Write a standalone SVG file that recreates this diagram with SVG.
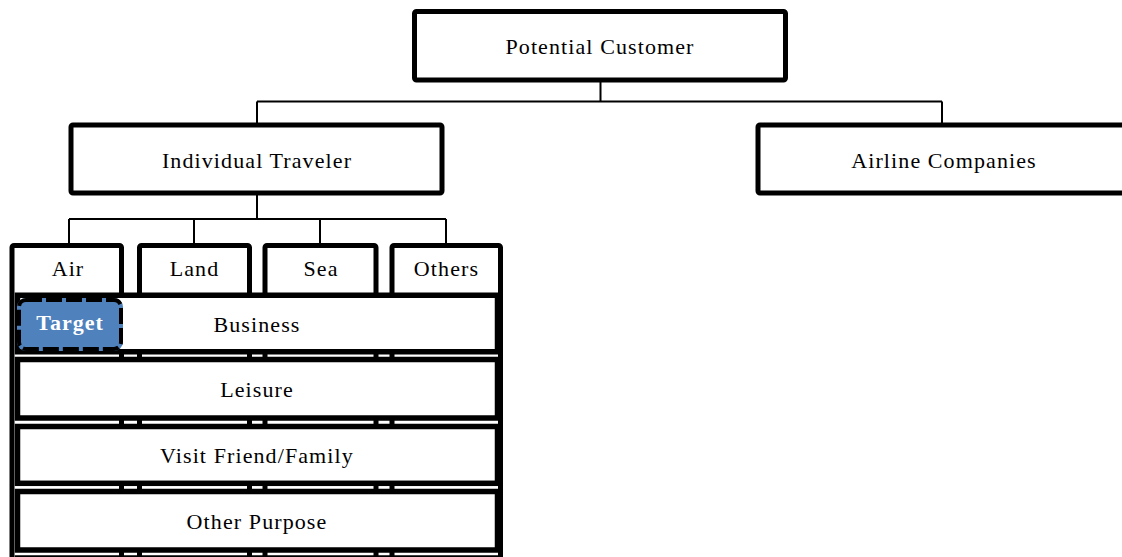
<svg xmlns="http://www.w3.org/2000/svg" width="1122" height="557" viewBox="0 0 1122 557">
<style>
.box{fill:#fff;stroke:#000;stroke-width:5}
.col{fill:#fff;stroke:#000;stroke-width:5}
.row{fill:#fff;stroke:#000;stroke-width:5.5}
.conn{fill:none;stroke:#000;stroke-width:2}
.t{font-family:"Liberation Serif","Times New Roman",serif;font-size:22px;letter-spacing:1.1px;fill:#000;text-anchor:middle}
.tw{font-family:"Liberation Serif","Times New Roman",serif;font-size:22px;font-weight:bold;letter-spacing:1px;fill:#fff;text-anchor:middle}
</style>
<rect width="1122" height="557" fill="#fff"/>
<g id="connectors">
<path class="conn" d="M600.5 80V101.5M257 101.5H942M257 101.5V124M942 101.5V124"/>
<path class="conn" d="M257 193V219M69 219H446M69 219V245M194 219V245M320 219V245M446 219V245"/>
</g>
<g id="potential-customer">
<rect class="box" x="414.5" y="11.5" width="371" height="68.5" rx="2"/>
<text class="t" x="600" y="53.5">Potential Customer</text>
</g>
<g id="individual-traveler">
<rect class="box" x="71" y="125" width="371" height="68" rx="2"/>
<text class="t" x="257" y="168">Individual Traveler</text>
</g>
<g id="airline-companies">
<rect class="box" x="758" y="125" width="380" height="68" rx="2"/>
<text class="t" x="944" y="168">Airline Companies</text>
</g>
<g id="col-air">
<rect class="col" x="12" y="245.5" width="109.5" height="360" rx="2"/>
<text class="t" x="68" y="276">Air</text>
</g>
<g id="col-land">
<rect class="col" x="139.5" y="245.5" width="110" height="360" rx="2"/>
<text class="t" x="194.5" y="276">Land</text>
</g>
<g id="col-sea">
<rect class="col" x="265" y="245.5" width="111" height="360" rx="2"/>
<text class="t" x="321" y="276">Sea</text>
</g>
<g id="col-others">
<rect class="col" x="392" y="245.5" width="108.5" height="360" rx="2"/>
<text class="t" x="446.5" y="276">Others</text>
</g>
<g id="row-business">
<rect class="row" x="17.5" y="295.25" width="480" height="56.5"/>
<text class="t" x="257" y="331.5">Business</text>
</g>
<g id="row-leisure">
<rect class="row" x="17.5" y="359.5" width="480" height="58.5"/>
<text class="t" x="257" y="397">Leisure</text>
</g>
<g id="row-visit">
<rect class="row" x="17.5" y="426.5" width="480" height="56.8"/>
<text class="t" x="257" y="463">Visit Friend/Family</text>
</g>
<g id="row-other-purpose">
<rect class="row" x="17.5" y="491.5" width="480" height="58.5"/>
<text class="t" x="257" y="528.5">Other Purpose</text>
</g>
<rect class="row" x="17.5" y="558" width="480" height="58"/>
<g id="target">
<rect x="17" y="298" width="106" height="53" rx="9" fill="#4F81BD"/>
<rect x="19" y="300" width="102" height="49" rx="7" fill="none" stroke="#000" stroke-width="4" stroke-dasharray="16 4"/>
<text class="tw" x="70" y="330">Target</text>
</g>
</svg>
